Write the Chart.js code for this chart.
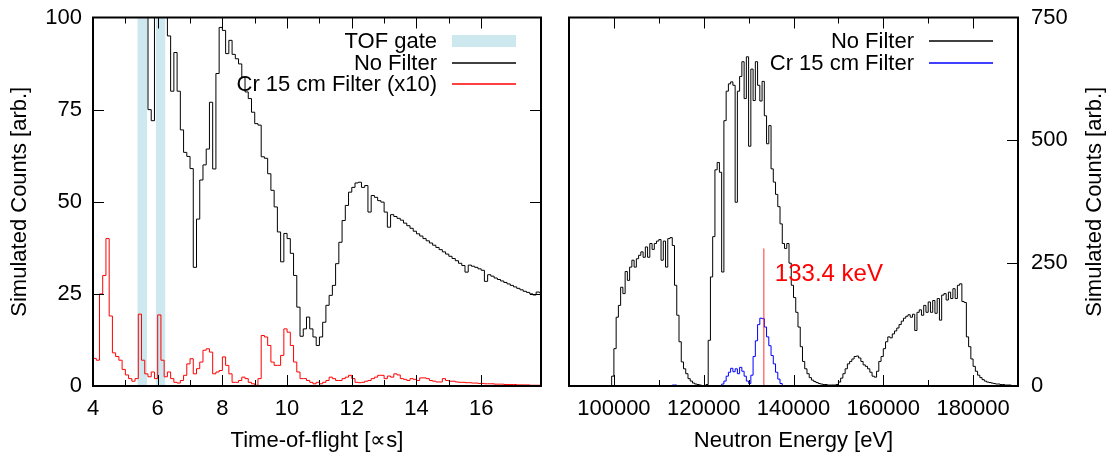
<!DOCTYPE html>
<html>
<head>
<meta charset="utf-8">
<title>TOF / energy spectra</title>
<script src="https://cdn.jsdelivr.net/npm/chart.js@4.4.1/dist/chart.umd.min.js"></script>
<style>
  html, body { margin: 0; padding: 0; background: #fff; }
  #wrap { position: relative; width: 1111px; height: 457px; overflow: hidden; }
  canvas { position: absolute; top: 0; }
  #tof { left: 0; }
  #energy { left: 555px; }
</style>
</head>
<body>
<div id="wrap">
  <canvas id="tof" width="555" height="457"></canvas>
  <canvas id="energy" width="556" height="457"></canvas>
</div>
<script>
// ---- Data ----

// Time-of-flight histograms, bins of 0.1 us starting at 4.0 us
const tofStart = 4.0;
const tofBinWidth = 0.1;
// values above 100 run off the top of the plot
const tofNoFilter = [
  140, 140, 140, 140, 140, 140, 140, 140, 140, 140,
  140, 140, 140, 140, 140, 140, 140, 75, 72, 140,
  140, 140, 140, 95, 80, 90.5, 80, 69.5, 63.4, 62.3,
  59, 32.2, 45.3, 55.9, 60, 64.3, 77, 58.9, 84.8, 97.3,
  96.5, 90.2, 93.8, 90, 88.8, 87.4, 83.8, 79.8, 78, 74.3,
  71.2, 70.8, 62.2, 61.8, 57.6, 53.1, 48.6, 41.8, 33.7, 41.4,
  40, 36, 30, 21.4, 13.5, 15.5, 18.7, 15.5, 13.3, 11,
  13.3, 17.3, 21.9, 24.6, 27.3, 33.2, 39, 44.9, 49, 52.6,
  53.9, 55.1, 55.3, 53.9, 54.4, 47.2, 51.7, 51.2, 50.3, 49.9,
  47.2, 43.1, 46.5, 46, 45.5, 45, 44.2, 43.5, 42.8, 42,
  41.3, 40.7, 40, 39.4, 38.8, 38.2, 37.6, 37, 36.4, 35.8,
  35.2, 34.6, 34, 33.3, 32.7, 30.9, 32.8, 32.5, 32.2, 31.8,
  31.4, 28.4, 30.2, 29.8, 29.3, 28.9, 28.5, 28.1, 27.7, 27.3,
  26.9, 26.5, 26.1, 25.7, 25.4, 25, 24.7, 25.5, 25.3
];
// Cr 15 cm filter, already multiplied by 10
const tofCrFilter = [
  7.5, 7, 25, 30, 40, 19, 9, 8, 7, 4.5,
  3, 2, 1.3, 2, 19.5, 7, 3.3, 2.5, 3.8, 2,
  19.3, 7, 2.5, 3.8, 2, 1, 0.8, 1.5, 2.9, 6,
  7.4, 3.3, 4.7, 6.5, 9.7, 10.1, 9.2, 3.3, 3.8, 4.2,
  7.9, 5.6, 3.3, 1, 1, 1.5, 2.4, 2, 1, 0.6,
  0.2, 2, 13.7, 13.3, 11, 6.5, 5.6, 5.6, 8.3, 15.5,
  14.6, 11, 6.5, 3.8, 2, 2, 1.5, 1, 0.6, 1,
  0.6, 1, 1.5, 2.4, 2, 1.5, 1.5, 2, 2.4, 2.9,
  2, 1, 0.9, 1, 1.3, 1.5, 2, 2.4, 2.9, 2.9,
  2, 2.7, 2.4, 3.3, 3, 2, 1.8, 1.5, 2, 1.8,
  1.5, 2.2, 2.2, 2, 1.5, 1.3, 1.1, 1.1, 2, 1.5,
  1.3, 1.3, 1.1, 1, 1, 0.9, 0.9, 0.8, 0.8, 0.7,
  0.7, 0.6, 0.6, 0.6, 0.5, 0.5, 0.5, 0.4, 0.4, 0.4,
  0.4, 0.3, 0.3, 0.3, 0.3, 0.2, 0.2, 0.2, 0.2
];
const tofGates = [[5.37, 5.67], [5.94, 6.24]];
const tofTickLabels = ['4', '6', '8', '10', '12', '14', '16'];

// Energy histograms, bins of 500 eV starting at 90 keV
const energyStart = 90000;
const energyBinWidth = 500;
const energyNoFilter = [
  0, 0, 0, 0, 0, 0, 0, 0, 0, 0,
  0, 0, 0, 0, 0, 0, 0, 0, 0, 20,
  76, 140, 164, 201, 188, 233, 215, 242, 256, 242,
  259, 266, 273, 262, 283, 262, 290, 278, 290, 295,
  298, 256, 295, 242, 300, 302, 286, 205, 144, 90,
  49, 35, 25, 15, 10, 6, 4, 3, 2, 1,
  1, 3, 93, 222, 304, 440, 455, 435, 232, 540,
  600, 615, 619, 612, 374, 600, 630, 660, 585, 670,
  488, 645, 581, 660, 612, 580, 620, 550, 493, 530,
  442, 415, 390, 365, 330, 290, 280, 290, 250, 205,
  180, 150, 120, 80, 50, 35, 25, 17, 12, 9,
  7, 5, 4, 3, 3, 2, 2, 2, 2, 3,
  8, 16, 25, 35, 45, 50, 55, 60, 61, 57,
  50, 43, 40, 35, 28, 20, 18, 30, 50, 60,
  76, 90, 100, 98, 106, 112, 118, 125, 132, 138,
  142, 145, 140, 146, 113, 150, 155, 144, 164, 150,
  171, 150, 174, 148, 178, 134, 185, 188, 175, 191,
  178, 198, 178, 205, 208, 172, 170, 100, 80, 55,
  40, 30, 22, 17, 13, 10, 8, 7, 6, 5,
  4, 4, 3, 3, 2, 2, 2, 1, 1, 1
];
const energyCrFilter = [
  0, 0, 0, 0, 0, 0, 0, 0, 0, 0,
  0, 0, 0, 0, 0, 0, 0, 0, 0, 0,
  0, 0, 0, 0, 0, 0, 0, 0, 0, 0,
  0, 0, 0, 0, 0, 0, 0, 0, 0, 0,
  0, 0, 0, 0, 0, 1, 2, 2, 1, 0,
  0, 0, 0, 0, 0, 0, 0, 0, 0, 0,
  0, 0, 0, 0, 0, 0, 0, 1, 4, 10,
  20, 28, 36, 29, 35, 25, 38, 30, 20, 10,
  5, 22, 60, 92, 125, 138, 137, 120, 100, 82,
  62, 45, 28, 14, 5, 1, 0, 0, 0, 0,
  0, 0, 0, 0, 0, 0, 0, 0, 0, 0,
  0, 0, 0, 0, 0, 0, 0, 0, 0, 0,
  0, 0, 0, 0, 0, 0, 0, 0, 0, 0,
  0, 0, 0, 0, 0, 0, 0, 0, 0, 0,
  0, 0, 0, 0, 0, 0, 0, 0, 0, 0,
  0, 0, 0, 0, 0, 0, 0, 0, 0, 0,
  1, 1, 1, 1, 1, 1, 1, 1, 1, 1,
  1, 1, 1, 1, 1, 1, 0, 0, 0, 0,
  0, 0, 0, 0, 0, 0, 0, 0, 0, 0,
  0, 0, 0, 0, 0, 0, 0, 0, 0, 0
];
const energyTickLabels = ['100000', '120000', '140000', '160000', '180000'];
const markerEnergy = 133400;
const markerHeight = 280;
const markerLabel = '133.4 keV';


// ---- Helpers ----

const FONT = '"Liberation Sans", Arial, Helvetica, sans-serif';
Chart.defaults.font.family = FONT;
Chart.defaults.font.size = 22;
Chart.defaults.color = '#000';

const gateColor = 'rgba(173, 216, 230, 0.6)';

/**
 * Turn bin values into step points (one extra point closes the last bin)
 */
function histogram(start, width, values) {
    const pts = values.map((v, i) => ({ x: start + i * width, y: v }));
    pts.push({ x: start + values.length * width, y: values[values.length - 1] });
    return pts;
}

function stepLine(label, data, color, order) {
    return {
        label: label,
        data: data,
        borderColor: color,
        borderWidth: 1,
        pointRadius: 0,
        stepped: true,
        fill: false,
        order: order
    };
}

/**
 * Gnuplot style frame with inward ticks (mirrored where asked)
 */
function frameTicks(isMajorX, ySides) {
    return {
        id: 'frameTicks',
        afterDatasetsDraw(chart) {
            const { ctx, chartArea: a, scales } = chart;
            ctx.save();
            ctx.strokeStyle = '#000';
            ctx.lineWidth = 1;

            const xs = scales.x;
            xs.ticks.forEach(t => {
                if (t.value <= xs.min || t.value >= xs.max) return;
                const px = Math.round(xs.getPixelForValue(t.value)) + 0.5;
                const len = isMajorX(t.value) ? 11 : 6;
                ctx.beginPath();
                ctx.moveTo(px, a.bottom); ctx.lineTo(px, a.bottom - len);
                ctx.moveTo(px, a.top); ctx.lineTo(px, a.top + len);
                ctx.stroke();
            });

            const ys = scales.y;
            ys.ticks.forEach(t => {
                if (t.value <= ys.min || t.value >= ys.max) return;
                const py = Math.round(ys.getPixelForValue(t.value)) + 0.5;
                ctx.beginPath();
                if (ySides.includes('left')) { ctx.moveTo(a.left, py); ctx.lineTo(a.left + 11, py); }
                if (ySides.includes('right')) { ctx.moveTo(a.right, py); ctx.lineTo(a.right - 11, py); }
                ctx.stroke();
            });

            ctx.lineWidth = 2;
            ctx.strokeRect(a.left, a.top, a.right - a.left, a.bottom - a.top);
            ctx.restore();
        }
    };
}

/**
 * Key in the upper right corner: text right-aligned, sample to its right
 */
function keyBox(entries) {
    return {
        id: 'keyBox',
        afterDraw(chart) {
            const { ctx, chartArea: a } = chart;
            ctx.save();
            ctx.font = '22px ' + FONT;
            ctx.textAlign = 'right';
            ctx.textBaseline = 'middle';
            entries.forEach((e, i) => {
                const y = Math.round(a.top + 23.5 + i * 21.5);
                ctx.fillStyle = '#000';
                ctx.fillText(e[0], a.right - 104, y + 1);
                if (e[2] === 'box') {
                    ctx.fillStyle = e[1];
                    ctx.fillRect(a.right - 89, y - 6, 64, 12);
                } else {
                    ctx.strokeStyle = e[1];
                    ctx.lineWidth = 1.6;
                    ctx.beginPath();
                    ctx.moveTo(a.right - 89, y);
                    ctx.lineTo(a.right - 25, y);
                    ctx.stroke();
                }
            });
            ctx.restore();
        }
    };
}

// no axis lines or grid; fixed box sizes so the frames land where the original has them
function baseScales(xOpts, yOpts) {
    const common = {
        grid: { display: false, drawTicks: false },
        border: { display: false }
    };
    return {
        x: Object.assign({ type: 'linear' }, common, xOpts, {
            afterFit: s => { s.height = 71; s.paddingLeft = 0; s.paddingRight = 0; }
        }),
        y: Object.assign({}, common, yOpts, {
            afterFit: s => { s.width = 93; s.paddingTop = 0; s.paddingBottom = 0; }
        })
    };
}


// ---- Left: time-of-flight ----

const gateSets = tofGates.map(g => ({
    label: 'TOF gate',
    data: [{ x: g[0], y: 100 }, { x: g[1], y: 100 }],
    borderColor: 'transparent',
    borderWidth: 0,
    backgroundColor: gateColor,
    pointRadius: 0,
    fill: 'origin',
    order: 10
}));

new Chart(document.getElementById('tof'), {
    type: 'line',
    data: {
        datasets: gateSets.concat([
            stepLine('No Filter', histogram(tofStart, tofBinWidth, tofNoFilter), '#000000', 2),
            stepLine('Cr 15 cm Filter (x10)', histogram(tofStart, tofBinWidth, tofCrFilter), '#ff0000', 1)
        ])
    },
    options: {
        responsive: false,
        animation: false,
        layout: { padding: { top: 17.5, right: 14, left: 0, bottom: 0 } },
        plugins: { legend: { display: false }, tooltip: { enabled: false } },
        scales: baseScales({
            min: 4,
            max: 17.85,
            ticks: {
                stepSize: 1,
                autoSkip: false,
                maxRotation: 0,
                padding: 10,
                callback: v => tofTickLabels.includes(String(v)) ? String(v) : ''
            },
            title: { display: true, text: 'Time-of-flight [∝s]', padding: { top: 0, bottom: 3 } }
        }, {
            min: 0,
            max: 100,
            ticks: { stepSize: 25, padding: 11 },
            title: { display: true, text: 'Simulated Counts [arb.]', padding: { top: 7, bottom: 0 } }
        })
    },
    plugins: [
        frameTicks(v => v % 2 === 0, ['left', 'right']),
        keyBox([
            ['TOF gate', gateColor, 'box'],
            ['No Filter', '#000000', 'line'],
            ['Cr 15 cm Filter (x10)', '#ff0000', 'line']
        ])
    ]
});


// ---- Right: neutron energy ----

const markerNote = {
    id: 'markerNote',
    afterDraw(chart) {
        const { ctx, scales, chartArea: a } = chart;
        ctx.save();
        ctx.fillStyle = '#ff0000';
        ctx.font = '24px ' + FONT;
        ctx.textAlign = 'left';
        ctx.textBaseline = 'alphabetic';
        ctx.fillText(markerLabel, scales.x.getPixelForValue(markerEnergy) + 11,
            scales.y.getPixelForValue(markerHeight) + 33);

        // right hand axis title reads bottom to top, as on the left
        ctx.fillStyle = '#000';
        ctx.font = '22px ' + FONT;
        ctx.textAlign = 'center';
        ctx.textBaseline = 'middle';
        ctx.translate(chart.width - 16, (a.top + a.bottom) / 2);
        ctx.rotate(-Math.PI / 2);
        ctx.fillText('Simulated Counts [arb.]', 0, 0);
        ctx.restore();
    }
};

new Chart(document.getElementById('energy'), {
    type: 'line',
    data: {
        datasets: [
            stepLine('No Filter', histogram(energyStart, energyBinWidth, energyNoFilter), '#000000', 3),
            stepLine('Cr 15 cm Filter', histogram(energyStart, energyBinWidth, energyCrFilter), '#0000ff', 2),
            {
                label: markerLabel,
                data: [{ x: markerEnergy, y: 0 }, { x: markerEnergy, y: markerHeight }],
                borderColor: 'rgba(255, 0, 0, 0.8)',
                borderWidth: 1,
                pointRadius: 0,
                fill: false,
                order: 1
            }
        ]
    },
    options: {
        responsive: false,
        animation: false,
        layout: { padding: { top: 17.5, right: 0, left: 14, bottom: 0 } },
        plugins: { legend: { display: false }, tooltip: { enabled: false } },
        scales: baseScales({
            min: 90000,
            max: 190000,
            ticks: {
                stepSize: 10000,
                autoSkip: false,
                maxRotation: 0,
                padding: 10,
                callback: v => energyTickLabels.includes(String(v)) ? String(v) : ''
            },
            title: { display: true, text: 'Neutron Energy [eV]', padding: { top: 0, bottom: 3 } }
        }, {
            position: 'right',
            min: 0,
            max: 750,
            ticks: { stepSize: 250, padding: 13 },
            title: { display: false }
        })
    },
    plugins: [
        frameTicks(v => v % 20000 === 0, ['right']),
        keyBox([
            ['No Filter', '#000000', 'line'],
            ['Cr 15 cm Filter', '#0000ff', 'line']
        ]),
        markerNote
    ]
});
</script>
</body>
</html>
